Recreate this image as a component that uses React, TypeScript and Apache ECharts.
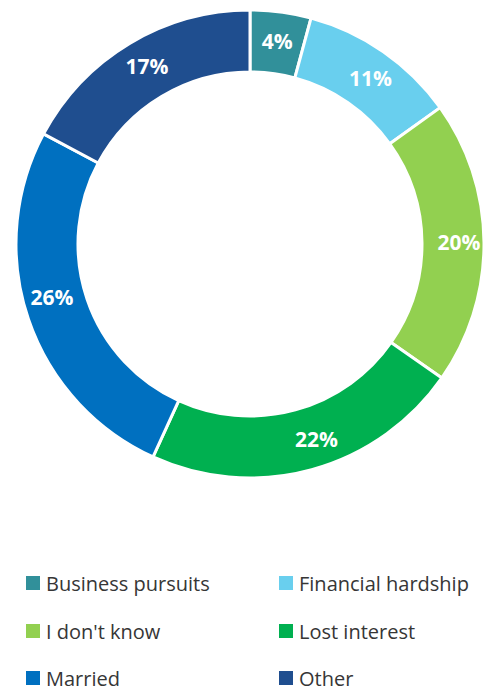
import React, { useEffect, useRef } from "react";
import * as echarts from "echarts";

const categories = ["Business pursuits", "Financial hardship", "I don't know", "Lost interest", "Married", "Other"];
const values = [4.2, 10.9, 19.6, 22.1, 26.0, 17.2];
const colors = ["#31909a", "#69cfee", "#92d050", "#00b050", "#0070c0", "#1f4e8f"];
const labelOffsets = [[0, 1], [3, 3], [3, -1], [12, -4], [-3, -13], [3, -1]];

const legendPos = [
  { left: 24, top: 573 },
  { left: 277, top: 573 },
  { left: 24, top: 621 },
  { left: 277, top: 621 },
  { left: 24, top: 668 },
  { left: 277, top: 668 },
];

export default function App() {
  const ref = useRef<HTMLDivElement>(null);
  useEffect(() => {
    const chart = echarts.init(ref.current!, null, { renderer: "svg" });
    chart.setOption({
      animation: false,
      color: colors,
      legend: categories.map((c, i) => ({
        data: [c],
        left: legendPos[i].left,
        top: legendPos[i].top,
        icon: "rect",
        itemWidth: 16,
        itemHeight: 16,
        itemGap: 8,
        padding: 0,
        selectedMode: false,
        textStyle: { fontSize: 20, lineHeight: 17, color: "#363636", fontFamily: "Open Sans" },
      })),
      series: [
        {
          type: "pie",
          center: [250, 244],
          radius: [172, 234],
          startAngle: 90,
          clockwise: true,
          itemStyle: { borderColor: "#fff", borderWidth: 3 },
          label: {
            show: true,
            position: "inside",
            formatter: (p: any) => Math.round(p.value) + "%",
            color: "#fff",
            fontSize: 21,
            fontWeight: "bold",
            fontFamily: "Open Sans",
          },
          labelLine: { show: false },
          data: categories.map((c, i) => ({
            name: c,
            value: values[i],
            label: { offset: labelOffsets[i] },
          })),
        },
      ],
    });
    return () => chart.dispose();
  }, []);
  return <div ref={ref} style={{ width: 498, height: 690, position: "absolute", left: 0, top: 0 }} />;
}
